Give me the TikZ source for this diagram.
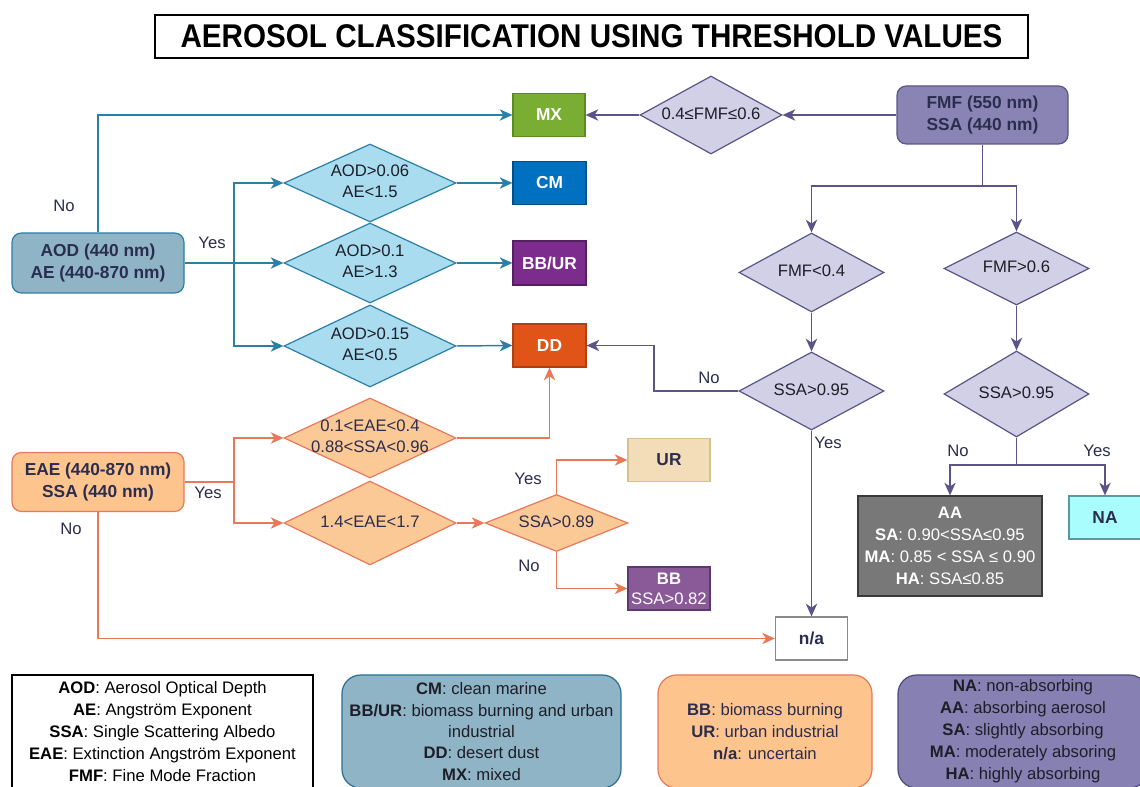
\documentclass[tikz,border=0pt]{standalone}
\usepackage{fontspec}
\setmainfont{Liberation Sans}
\usetikzlibrary{shapes.geometric,arrows.meta}
\definecolor{navy}{HTML}{2B2D4F}
\definecolor{nearblack}{HTML}{1E1E28}
\definecolor{bline}{HTML}{2A7FA5}
\definecolor{oline}{HTML}{E8785A}
\definecolor{pline}{HTML}{5A5488}
\definecolor{aodfill}{HTML}{8FB4C6}
\definecolor{bdfill}{HTML}{AADCF0}
\definecolor{cmfill}{HTML}{0070C0}
\definecolor{bburfill}{HTML}{7B2C8C}
\definecolor{ddfill}{HTML}{E05418}
\definecolor{ddline}{HTML}{B04010}
\definecolor{mxfill}{HTML}{7AAE32}
\definecolor{mxline}{HTML}{5A8A20}
\definecolor{eaefill}{HTML}{FDC48E}
\definecolor{odfill}{HTML}{FBC996}
\definecolor{urfill}{HTML}{F3DDB8}
\definecolor{urline}{HTML}{D6C08E}
\definecolor{bbfill}{HTML}{8A5A98}
\definecolor{bbline}{HTML}{5A3A70}
\definecolor{fmffill}{HTML}{8A84B4}
\definecolor{pdfill}{HTML}{D1D0E6}
\definecolor{aafill}{HTML}{787878}
\definecolor{aaline}{HTML}{3A3A3A}
\definecolor{nafill}{HTML}{A9FDFD}
\definecolor{naline}{HTML}{5A9A9A}
\definecolor{nxline}{HTML}{8A8A8A}
\definecolor{lg4fill}{HTML}{8780B2}
\definecolor{lg4line}{HTML}{4E4A80}
\definecolor{lg2line}{HTML}{2A6F95}
\newcommand\dtx[1]{\makebox[0pt]{\begin{tabular}{@{}c@{}}#1\end{tabular}}}
\begin{document}
\begin{tikzpicture}[x=0.75pt,y=-0.75pt,
  sz/.style 2 args={minimum width=#1*0.75pt, minimum height=#2*0.75pt},
  box/.style={draw, inner sep=0pt, align=center, line width=0.9pt, text=navy,
    font=\bfseries\fontsize{13}{16}\selectfont},
  rbox/.style={box, rounded corners=7pt},
  dia/.style={diamond, draw, inner sep=0pt, line width=0.9pt,
    font=\fontsize{12.5}{16}\selectfont},
  lbl/.style={text=navy, font=\fontsize{12.5}{15}\selectfont, inner sep=0pt},
  lgd/.style={draw, inner sep=0pt, align=center, line width=0.9pt,
    font=\fontsize{12.5}{16.5}\selectfont},
  arr/.style={-{Stealth[length=9.5pt,width=8.5pt,inset=2.8pt]}},
  conn/.style={line width=1.1pt}
]
\useasboundingbox (0,0) rectangle (1140,787);
\clip (0,0) rectangle (1140,787);

% title
\node[draw=black, line width=0.9pt, sz={873}{43}, inner sep=0pt,
  font=\bfseries\fontsize{22}{24}\selectfont] (title) at (591.5,36.5)
  {\scalebox{1.01}[1.12]{AEROSOL CLASSIFICATION USING THRESHOLD VALUES}};

% blue branch
\node[rbox, fill=aodfill, draw=bline, sz={172}{60}] (aod) at (98,263)
  {AOD (440 nm)\\AE (440-870 nm)};
\node[dia, fill=bdfill, draw=bline, text=nearblack, sz={172}{78}] (b1) at (370,183) {\dtx{AOD>0.06\\AE<1.5}};
\node[dia, fill=bdfill, draw=bline, text=nearblack, sz={172}{80}] (b2) at (370,263) {\dtx{AOD>0.1\\AE>1.3}};
\node[dia, fill=bdfill, draw=bline, text=nearblack, sz={172}{82}] (b3) at (370,346) {\dtx{AOD>0.15\\AE<0.5}};
\node[box, fill=mxfill, draw=mxline, text=white, sz={72}{43}] (mx) at (549,115) {MX};
\node[box, fill=cmfill, draw=cmfill!70!black, text=white, sz={73}{43}] (cm) at (549.5,183) {CM};
\node[box, fill=bburfill, draw=bburfill!70!black, text=white, sz={73}{44}] (bbur) at (549.5,263) {BB/UR};
\node[box, fill=ddfill, draw=ddline, text=white, sz={73}{43}] (dd) at (549.5,345.5) {DD};

\coordinate (bj) at (234,263);
\draw[conn, draw=bline, arr] (aod.north) |- (mx.west);
\draw[conn, draw=bline, arr] (aod.east) -- (b2.west);
\draw[conn, draw=bline, arr] (bj) |- (b1.west);
\draw[conn, draw=bline, arr] (bj) |- (b3.west);
\draw[conn, draw=bline, arr] (b1.east) -- (cm.west);
\draw[conn, draw=bline, arr] (b2.east) -- (bbur.west);
\draw[conn, draw=bline, arr] (b3.east) -- (dd.west);
\node[lbl] (lno1) at (64,206) {No};
\node[lbl] (lyes1) at (212,243) {Yes};

% orange branch
\node[rbox, fill=eaefill, draw=oline, sz={172}{59}] (eae) at (98,482)
  {EAE (440-870 nm)\\SSA (440 nm)};
\node[dia, fill=odfill, draw=oline, text=navy, sz={172}{80}] (o1) at (370,438) {\dtx{0.1<EAE<0.4\\0.88<SSA<0.96}};
\node[dia, fill=odfill, draw=oline, text=navy, sz={172}{84}] (o2) at (370,523) {\dtx{1.4<EAE<1.7}};
\node[dia, fill=odfill, draw=oline, text=navy, sz={143}{57}] (s89) at (556.5,523) {\dtx{SSA>0.89}};
\node[box, fill=urfill, draw=urline, sz={82}{43}] (ur) at (669,460) {UR};
\node[box, fill=bbfill, draw=bbline, text=white, sz={82}{43},
  font=\fontsize{12.5}{15}\selectfont] (bb) at (669,588.5) {\textbf{BB}\\SSA>0.82};
\node[box, fill=white, draw=nxline, sz={72}{43}] (nx) at (811.5,638.5) {n/a};

\coordinate (oj) at (234,482);
\draw[conn, draw=oline] (eae.east) -- (oj);
\draw[conn, draw=oline, arr] (oj) |- (o1.west);
\draw[conn, draw=oline, arr] (oj) |- (o2.west);
\draw[conn, draw=oline, arr] (o1.east) -| (dd.south);
\draw[conn, draw=oline, arr] (o2.east) -- (s89.west);
\draw[conn, draw=oline, arr] (s89.north) |- (ur.west);
\draw[conn, draw=oline, arr] (s89.south) |- (bb.west);
\draw[conn, draw=oline, arr] (eae.south) |- (nx.west);
\node[lbl] (lyes2) at (208,493) {Yes};
\node[lbl] (lno2) at (71,529) {No};
\node[lbl] (lyes3) at (528,479) {Yes};
\node[lbl] (lno3) at (529,566) {No};

% purple branch
\node[rbox, fill=fmffill, draw=pline, sz={171}{58}] (fmf) at (982.5,115)
  {FMF (550 nm)\\SSA (440 nm)};
\node[dia, fill=pdfill, draw=pline, text=nearblack, sz={142}{78}] (d46) at (711,115) {\dtx{0.4≤FMF≤0.6}};
\node[dia, fill=pdfill, draw=pline, text=nearblack, sz={145}{79}] (f04) at (811.5,272.5) {\dtx{FMF<0.4}};
\node[dia, fill=pdfill, draw=pline, text=nearblack, sz={145}{78}] (s95a) at (811.5,391) {\dtx{SSA>0.95}};
\node[dia, fill=pdfill, draw=pline, text=nearblack, sz={145}{73}] (f06) at (1016.5,268.5) {\dtx{FMF>0.6}};
\node[dia, fill=pdfill, draw=pline, text=nearblack, sz={145}{86}] (s95b) at (1016.5,394) {\dtx{SSA>0.95}};
\node[box, fill=aafill, draw=aaline, text=white, sz={184}{100},
  font=\fontsize{12.5}{16.5}\selectfont] (aa) at (950,546)
  {\textbf{AA}\\\textbf{SA}: 0.90<SSA≤0.95\\\textbf{MA}: 0.85 < SSA ≤ 0.90\\\textbf{HA}: SSA≤0.85};
\node[box, fill=nafill, draw=naline, sz={72}{43}] (nab) at (1105,517.5) {NA};

\coordinate (pj) at (982.5,186);
\coordinate (kj) at (654,345.5);
\coordinate (qj) at (1016.5,465);
\draw[conn, draw=pline, arr] (fmf.west) -- (d46.east);
\draw[conn, draw=pline, arr] (d46.west) -- (mx.east);
\draw[conn, draw=pline] (fmf.south) -- (pj);
\draw[conn, draw=pline, arr] (pj) -| (f04.north);
\draw[conn, draw=pline, arr] (pj) -| (f06.north);
\draw[conn, draw=pline, arr] (f04.south) -- (s95a.north);
\draw[conn, draw=pline, arr] (s95a.west) -| (kj) -- (dd.east);
\draw[conn, draw=pline, arr] (s95a.south) -- (nx.north);
\draw[conn, draw=pline, arr] (f06.south) -- (s95b.north);
\draw[conn, draw=pline] (s95b.south) -- (qj);
\draw[conn, draw=pline, arr] (qj) -| (aa.north);
\draw[conn, draw=pline, arr] (qj) -| (nab.north);
\node[lbl] (lno4) at (709,378) {No};
\node[lbl] (lyes4) at (828,443) {Yes};
\node[lbl] (lno5) at (958,451) {No};
\node[lbl] (lyes5) at (1097,451) {Yes};

% legend
\node[lgd, draw=black, fill=white, sz={301}{113}, text=black] (lg1) at (162.5,731.5)
  {\textbf{AOD}: Aerosol Optical Depth\\\textbf{AE}: Angström Exponent\\\textbf{SSA}: Single Scattering Albedo\\\textbf{EAE}: Extinction Angström Exponent\\\textbf{FMF}: Fine Mode Fraction};
\node[lgd, draw=lg2line, fill=aodfill, rounded corners=14pt, sz={279}{113}, text=nearblack,
  font=\fontsize{12.5}{16}\selectfont] (lg2) at (481.5,731.5)
  {\textbf{CM}: clean marine\\\textbf{BB/UR}: biomass burning and urban\\industrial\\\textbf{DD}: desert dust\\\textbf{MX}: mixed};
\node[lgd, draw=oline, fill=eaefill, rounded corners=14pt, sz={214}{113}, text=navy] (lg3) at (765,731.5)
  {\textbf{BB}: biomass burning\\\textbf{UR}: urban industrial\\\textbf{n/a}: uncertain};
\node[lgd, draw=lg4line, fill=lg4fill, rounded corners=14pt, sz={250}{113}, text=nearblack] (lg4) at (1023,731.5)
  {\textbf{NA}: non-absorbing\\\textbf{AA}: absorbing aerosol\\\textbf{SA}: slightly absorbing\\\textbf{MA}: moderately absoring\\\textbf{HA}: highly absorbing};
\end{tikzpicture}
\end{document}
